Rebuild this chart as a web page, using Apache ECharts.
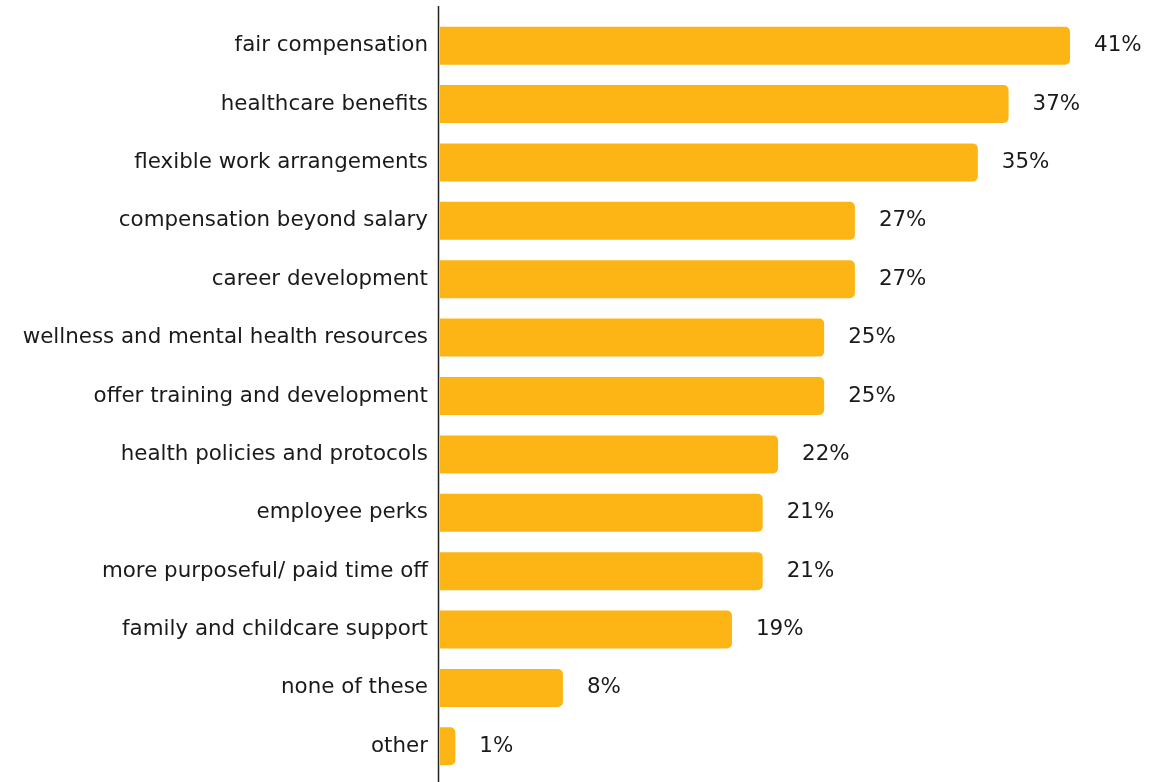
<!DOCTYPE html>
<html>
<head>
<meta charset="utf-8">
<style>
  html, body { margin: 0; padding: 0; background: #fff; }
  #chart { width: 1170px; height: 782px; }
</style>
<script src="https://cdn.jsdelivr.net/npm/echarts@6/dist/echarts.min.js"></script>
</head>
<body>
<div id="chart"></div>
<script>
// Benefits ranked by share of respondents (%)
const categories = [
  'fair compensation',
  'healthcare benefits',
  'flexible work arrangements',
  'compensation beyond salary',
  'career development',
  'wellness and mental health resources',
  'offer training and development',
  'health policies and protocols',
  'employee perks',
  'more purposeful/ paid time off',
  'family and childcare support',
  'none of these',
  'other'
];
const shares = [41, 37, 35, 27, 27, 25, 25, 22, 21, 21, 19, 8, 1];

const FONT = 'DejaVu Sans';
const chart = echarts.init(document.getElementById('chart'), null, { renderer: 'canvas' });

chart.setOption({
  backgroundColor: '#ffffff',
  animation: false,
  grid: { left: 440, right: 38.5, top: 16.5, bottom: 6.5, containLabel: false },
  xAxis: {
    type: 'value', min: 0, max: 45, show: false
  },
  yAxis: {
    type: 'category',
    inverse: true,
    data: categories,
    axisLine: { show: false },
    axisTick: { show: false },
    axisLabel: { color: '#1a1a1a', fontSize: 21.4, fontFamily: FONT, margin: 12 }
  },
  graphic: [{
    type: 'line',
    shape: { x1: 438.5, y1: 6, x2: 438.5, y2: 782 },
    style: { stroke: '#222', lineWidth: 1.5 },
    z: 10
  }],
  series: [{
    type: 'bar',
    data: shares,
    barWidth: 38,
    itemStyle: { color: '#FDB515', borderRadius: [0, 5, 5, 0] },
    label: {
      show: true, position: 'right', distance: 24,
      formatter: '{c}%', color: '#1a1a1a', fontSize: 21.4, fontFamily: FONT
    }
  }]
});
</script>
</body>
</html>
